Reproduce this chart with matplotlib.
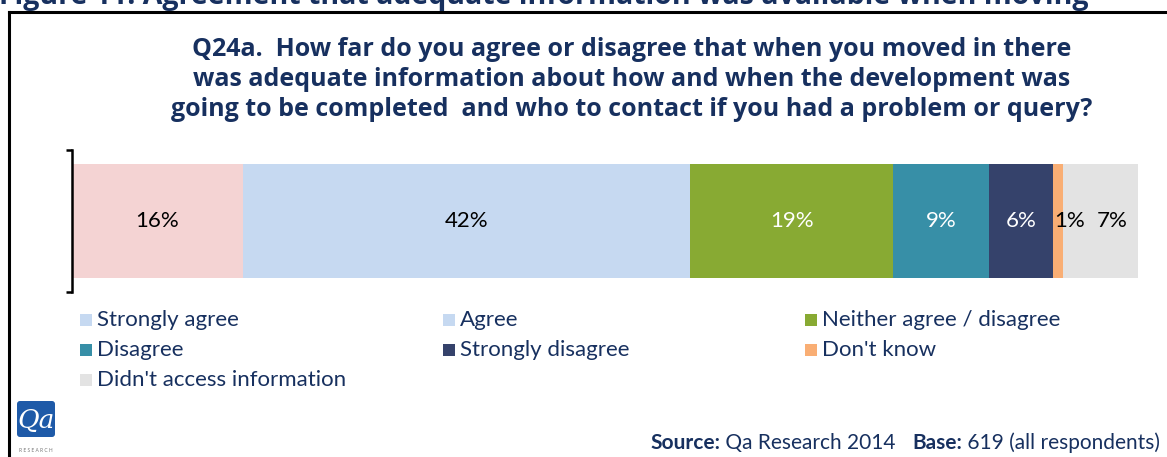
import matplotlib
matplotlib.use("Agg")
import matplotlib.pyplot as plt
from matplotlib.patches import Rectangle, FancyBboxPatch
from matplotlib.lines import Line2D

# survey answers, share of respondents (%)
categories = ["Strongly agree", "Agree", "Neither agree / disagree", "Disagree",
              "Strongly disagree", "Don't know", "Didn't access information"]
values = [16, 42, 19, 9, 6, 1, 7]
bar_colors = ["#F4D3D3", "#C6D9F1", "#88AA33", "#378FA7", "#35426B", "#F9AE74", "#E3E3E3"]
# legend swatches (the first swatch uses the Agree blue)
legend_colors = ["#C6D9F1", "#C6D9F1", "#88AA33", "#378FA7", "#35426B", "#F9AE74", "#E3E3E3"]
label_colors = ["black", "black", "white", "white", "white", "black", "black"]
label_shift = [0, 0, 0, 0, 0, 1.1, 1.1]

title_lines = ["Q24a.  How far do you agree or disagree that when you moved in there",
               "was adequate information about how and when the development was",
               "going to be completed  and who to contact if you had a problem or query?"]
heading = "Figure 11: Agreement that adequate information was available when moving"

W, H = 1167, 457
NAVY = "#17305F"
plt.rcParams["font.family"] = ["Lato", "DejaVu Sans"]

fig = plt.figure(figsize=(W / 100, H / 100), dpi=100)


def fx(px):
    return px / W


def fy(py):
    return 1 - py / H


# heading cut off by the page edge
fig.text(fx(-1), fy(4), heading, fontsize=20.5, fontweight="bold", color=NAVY,
         family="Open Sans", ha="left", va="baseline")

# frame around the chart
fig.add_artist(Line2D([fx(9), fx(9)], [fy(12), fy(460)], color="black", lw=2.2))
fig.add_artist(Line2D([fx(9), fx(1170)], [fy(12), fy(12)], color="black", lw=2.2))

for i, line in enumerate(title_lines):
    fig.text(fx(632), fy(49 + 30 * i), line, fontsize=18, fontweight="bold",
             family="Open Sans", color=NAVY, ha="center", va="center")

# stacked bar
ax = fig.add_axes([fx(72), fy(292), fx(1138) - fx(72), (292 - 150) / H])
left = 0
for v, c, tc, sh in zip(values, bar_colors, label_colors, label_shift):
    ax.barh(0, v, left=left, height=0.8, color=c, edgecolor="none")
    ax.text(left + v / 2 + sh, 0, f"{v}%", ha="center", va="center",
            fontsize=16, color=tc)
    left += v
ax.set_xlim(0, 100)
ax.set_ylim(-0.5, 0.5)
ax.set_yticks([-0.5, 0.5])
ax.set_yticklabels([])
ax.tick_params(axis="y", direction="out", length=4, width=1.8)
ax.set_xticks([])
for s in ["top", "right", "bottom"]:
    ax.spines[s].set_visible(False)
ax.spines["left"].set_linewidth(1.8)

# legend laid out in three even columns
lax = fig.add_axes([0, 0, 1, 1])
lax.set_xlim(0, W)
lax.set_ylim(H, 0)
lax.axis("off")
for i, (name, c) in enumerate(zip(categories, legend_colors)):
    col, row = i % 3, i // 3
    x0 = 80 + 362.5 * col
    y0 = 320 + 30 * row
    lax.add_patch(Rectangle((x0, y0 - 6), 12, 12, color=c, lw=0))
    lax.text(x0 + 17, y0, name, fontsize=16, color=NAVY, ha="left", va="center")

# Qa logo
lax.add_patch(FancyBboxPatch((17, 401), 38, 36, boxstyle="round,pad=0,rounding_size=3",
                             facecolor="#1E5AA8", edgecolor="none"))
lax.text(36, 420, "Qa", fontsize=19, color="white", style="italic",
         family="DejaVu Serif", ha="center", va="center")
lax.text(36, 451, "R E S E A R C H", fontsize=3.5, color="#777777", ha="center", va="center")

# source line, bold keys and regular values set one after another
fig.canvas.draw()
r = fig.canvas.get_renderer()
parts = [("Source:", "bold"), (" Qa Research 2014   ", "normal"), ("Base:", "bold"),
         (" 619 (all respondents)", "normal")]
pieces = []
for s, w in parts:
    t = lax.text(0, 443, s, fontsize=15, fontweight=w, color=NAVY, ha="left", va="center")
    pieces.append((t, t.get_window_extent(r).width))
x = 1160 - sum(wd for _, wd in pieces)
for t, wd in pieces:
    t.set_x(x)
    x += wd

fig.savefig("out.png", dpi=100)
